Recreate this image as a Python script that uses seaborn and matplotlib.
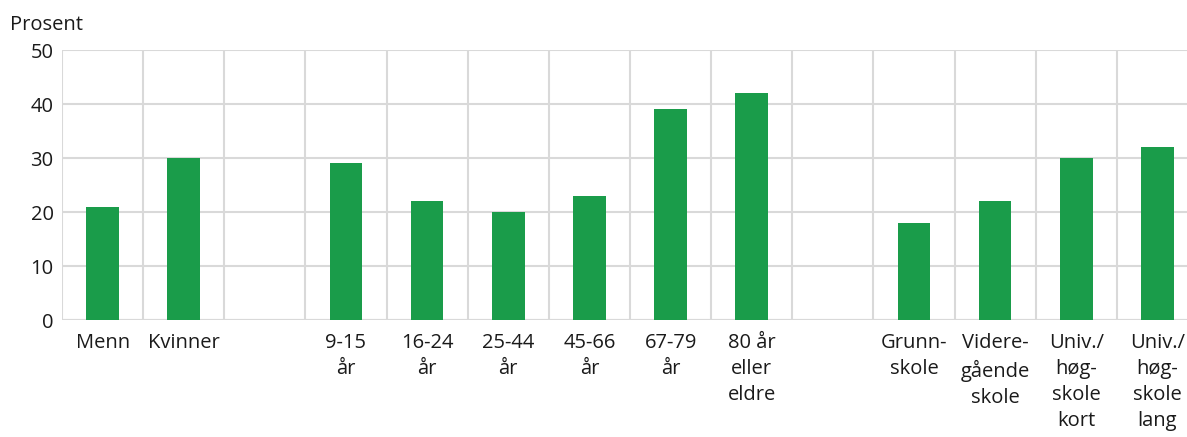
import numpy as np
import pandas as pd
import matplotlib
matplotlib.use("Agg")
import matplotlib.pyplot as plt
import seaborn as sns

# Categories (blank slots separate the groups)
categories = ["Menn", "Kvinner", " ",
              "9-15\når", "16-24\når", "25-44\når", "45-66\når", "67-79\når", "80 år\neller\neldre",
              "  ",
              "Grunn-\nskole", "Videre-\ngående\nskole", "Univ./\nhøg-\nskole\nkort", "Univ./\nhøg-\nskole\nlang"]
values = [21, 30, np.nan, 29, 22, 20, 23, 39, 42, np.nan, 18, 22, 30, 32]

df = pd.DataFrame({"kategori": categories, "prosent": values})

sns.set_style("white")
plt.rcParams["font.family"] = ["Open Sans", "DejaVu Sans"]

fig = plt.figure(figsize=(11.87, 4.37), dpi=100)
ax = fig.add_axes([62 / 1187, 1 - 320 / 437, 1136 / 1187, 270 / 437])

sns.barplot(data=df, x="kategori", y="prosent", color="#1a9c4a", width=0.4,
            saturation=1, linewidth=0, ax=ax, zorder=3)

ax.set_xlim(-0.5, len(categories) - 0.5)
ax.set_ylim(0, 50)
ax.set_yticks([0, 10, 20, 30, 40, 50])
ax.set_xticks(np.arange(-0.5, len(categories), 1), minor=True)
ax.grid(True, axis="y", color="#d9d9d9", linewidth=1.5, zorder=0)
ax.grid(True, axis="x", which="minor", color="#d9d9d9", linewidth=1.5, zorder=0)
ax.grid(False, axis="x", which="major")
for s in ax.spines.values():
    s.set_visible(False)
ax.axhline(0, color="#d9d9d9", linewidth=1.5, zorder=1)

ax.tick_params(axis="both", which="both", length=0)
ax.tick_params(axis="x", pad=9, labelsize=14.5, labelcolor="#1a1a1a")
ax.tick_params(axis="y", pad=6, labelsize=14.5, labelcolor="#1a1a1a")
for lab in ax.get_xticklabels():
    lab.set_linespacing(1.42)
    lab.set_verticalalignment("top")
ax.set_xlabel("")
ax.set_ylabel("")

fig.text(10 / 1187, 1 - 25 / 437, "Prosent", fontsize=14.5, color="#1a1a1a",
         ha="left", va="center")

fig.savefig("out.png", dpi=100)
